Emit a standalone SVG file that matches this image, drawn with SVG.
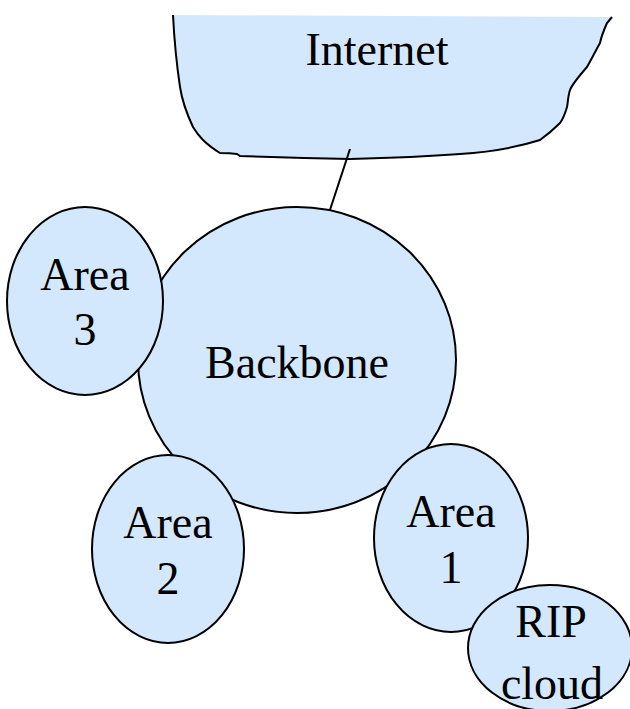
<svg xmlns="http://www.w3.org/2000/svg" width="630" height="709" viewBox="0 0 630 709">
<style>
.n{fill:#d4e8fd;stroke:#000;stroke-width:2}
.t{font-family:"Liberation Serif","Times New Roman",serif;font-size:46px;fill:#000;text-anchor:middle}
.c{stroke:#000;stroke-width:2;fill:none}
</style>
<rect width="630" height="709" fill="#fff"/>
<g id="internet">
<path d="M173,15 L612,17 L607,23 C603,32 601,38 600,43 C595,52 591,60 587,67 C580,75 572,85 570,90 C568,96 568,102 567,107 C565,114 563,119 560,123 C553,130 547,135 540,140 C515,148 490,152 460,154 C420,157 390,158 350,159 C300,158 270,157 240,156 L237,154 C230,153 226,153 220,153 C212,148 208,145 203,140 C198,135 196,132 193,127 C185,110 182,100 180,87 C176,60 174,35 173,15 Z" fill="#d4e8fd" stroke="none"/>
<path class="c" d="M173,15 C174,35 176,60 180,87 C182,100 185,110 193,127 C196,132 198,135 203,140 C208,145 212,148 220,153 C226,153 230,153 237,154 L240,156 C270,157 300,158 350,159 C390,158 420,157 460,154 C490,152 515,148 540,140 C547,135 553,130 560,123 C563,119 565,114 567,107 C568,102 568,96 570,90 C572,85 580,75 587,67 C591,60 595,52 600,43 C601,38 603,32 607,23 L612,17"/>
<text class="t" x="377" y="65">Internet</text>
</g>
<g id="connectors">
<line class="c" x1="350" y1="149" x2="327" y2="219"/>
</g>
<g id="backbone">
<ellipse class="n" cx="297" cy="360" rx="159" ry="153"/>
<text class="t" x="297" y="378">Backbone</text>
</g>
<g id="area3">
<ellipse class="n" cx="85" cy="301" rx="78" ry="94"/>
<text class="t" x="85" y="290">Area</text>
<text class="t" x="85" y="345">3</text>
</g>
<g id="area2">
<ellipse class="n" cx="168" cy="549" rx="76" ry="94"/>
<text class="t" x="168" y="538">Area</text>
<text class="t" x="168" y="594">2</text>
</g>
<g id="area1">
<ellipse class="n" cx="451" cy="538" rx="77" ry="94"/>
<text class="t" x="451" y="527">Area</text>
<text class="t" x="451" y="583">1</text>
</g>
<g id="rip">
<ellipse class="n" cx="550" cy="648" rx="82" ry="63"/>
<text class="t" x="551" y="637">RIP</text>
<text class="t" x="552" y="699">cloud</text>
</g>
</svg>
